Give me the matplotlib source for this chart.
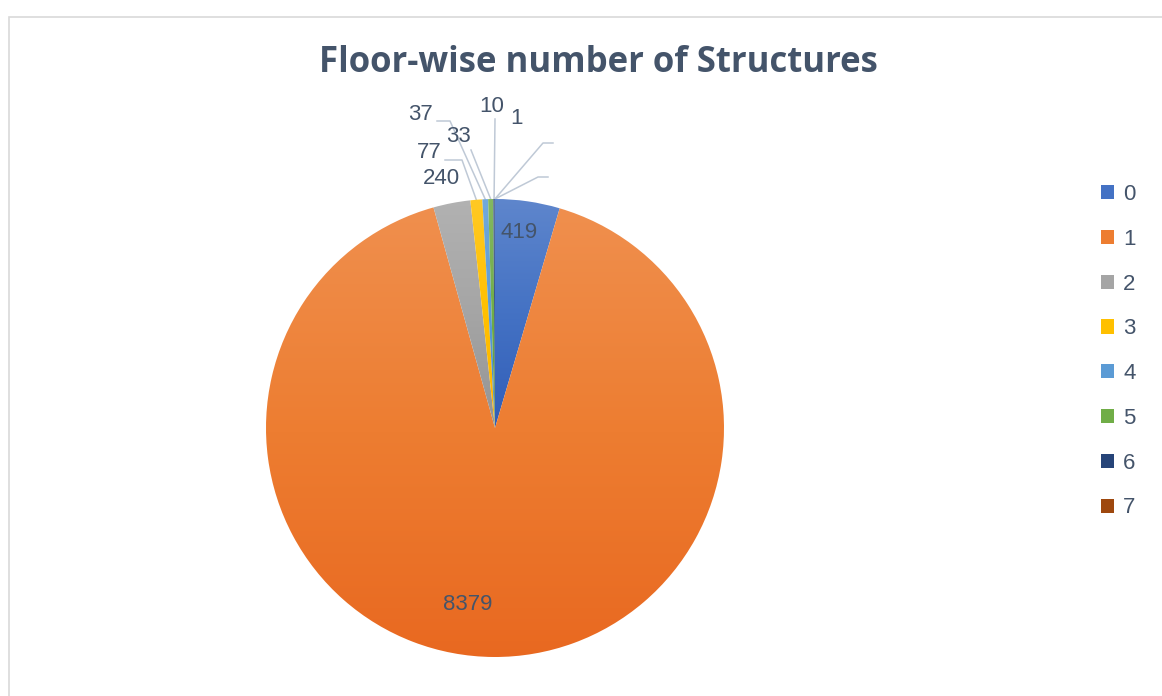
import numpy as np
import matplotlib.pyplot as plt
from matplotlib.colors import to_rgb, LinearSegmentedColormap
from matplotlib.patches import Patch, Rectangle

# data
floors = ['0', '1', '2', '3', '4', '5', '6', '7']
counts = [419, 8379, 240, 77, 37, 33, 10, 1]
colors = ['#4472C4', '#ED7D31', '#A5A5A5', '#FFC000',
          '#5B9BD5', '#70AD47', '#264478', '#9E480E']

TEXT = '#44546A'
LINE = '#BFC9D6'

W, H = 1162, 696
cx, cy, R = 495, 428, 229     # pie centre / radius in pixels
half = 270                    # half size of pie axes in pixels

fig = plt.figure(figsize=(W / 100, H / 100), dpi=100)
fig.patches.append(Rectangle((9 / W, -0.1), 1.2, 1 - 17 / H + 0.1, transform=fig.transFigure,
                             fill=False, edgecolor='#D9D9D9', lw=1.2))

ax = fig.add_axes([(cx - half) / W, (H - cy - half) / H, 2 * half / W, 2 * half / H])
lim = half / R
ax.axis('off')


def px(x, y):
    # pixel position -> pie data coords
    return (x - cx) / R, (cy - y) / R


wedges, _ = ax.pie(counts, colors=colors, startangle=90, counterclock=False,
                   radius=1, center=(0, 0), wedgeprops=dict(linewidth=0))

# vertical gradient fill (lighter on top) for each slice, like Office styling
for w, c in zip(wedges, colors):
    base = np.array(to_rgb(c))
    top = base + (1 - base) * 0.14
    bot = base ** 1.25
    cmap = LinearSegmentedColormap.from_list('g', [bot, base, top])
    bb = w.get_path().get_extents()
    grad = np.linspace(0, 1, 256).reshape(-1, 1)
    im = ax.imshow(grad, cmap=cmap, origin='lower', aspect='auto',
                   extent=[bb.x0, bb.x1, bb.y0, bb.y1], zorder=w.get_zorder(),
                   interpolation='bilinear')
    im.set_clip_path(w)
    w.set_facecolor('none')
ax.set_xlim(-lim, lim)
ax.set_ylim(-lim, lim)
ax.set_aspect('equal')

# slice edge points from cumulative angles
total = sum(counts)
cum = np.cumsum([0] + counts)
mid = 90 - 360 * (cum[:-1] + np.array(counts) / 2) / total
edge = [(np.cos(np.radians(a)), np.sin(np.radians(a))) for a in mid]

lab_font = dict(family='Liberation Sans', fontsize=16, color=TEXT, ha='center', va='center')

# label positions (pixels) and optional leader elbows
label_pos = [(519, 232), (468, 605), (441, 179), (429, 153), (420, 114), (458, 137), (492, 106), (517, 119)]
leaders = {3: [(445, 160), (462, 160)],
           4: [(437, 121), (450, 121)],
           5: [(471, 150)],
           6: [(495, 119)]}

for i, (v, p) in enumerate(zip(counts, label_pos)):
    ax.text(*px(*p), str(v), **lab_font)
    if i in leaders:
        pts = [px(*q) for q in leaders[i]] + [edge[i]]
        xs, ys = zip(*pts)
        ax.plot(xs, ys, color=LINE, lw=1.1, zorder=0.5, clip_on=False)

# two leader lines without text on the right
for elbow in ([(553, 143), (543, 143)], [(548, 177), (538, 177)]):
    pts = [px(*q) for q in elbow] + [edge[-1]]
    xs, ys = zip(*pts)
    ax.plot(xs, ys, color=LINE, lw=1.1, zorder=0.5, clip_on=False)

fig.text(598 / W, 1 - 63 / H, 'Floor-wise number of Structures', family='Open Sans',
         fontweight='bold', fontsize=25, color=TEXT, ha='center', va='center')

handles = [Patch(facecolor=c, edgecolor='none') for c in colors]
leg = fig.legend(handles, floors, loc='upper left', bbox_to_anchor=(1081 / W, 1 - 164 / H),
                 frameon=False, handlelength=0.6, handleheight=0.6, handletextpad=0.4,
                 labelspacing=1.07, prop=dict(family='Liberation Sans', size=16))
for t in leg.get_texts():
    t.set_color(TEXT)

fig.savefig('out.png', dpi=100, facecolor='white')
